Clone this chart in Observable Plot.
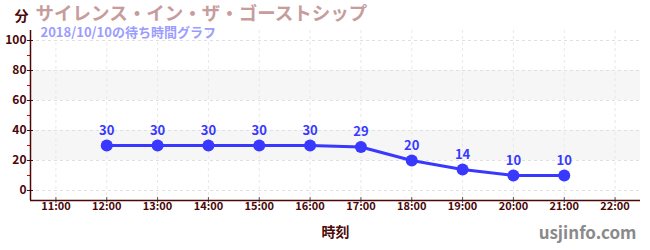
<!DOCTYPE html>
<html><head><meta charset="utf-8">
<script src="https://cdn.jsdelivr.net/npm/d3@7"></script>
<script src="https://cdn.jsdelivr.net/npm/@observablehq/plot@0.6"></script>
<style>body{margin:0;background:#fff}</style>
</head><body><div id="chart"></div>
<script>
const hours = [12, 13, 14, 15, 16, 17, 18, 19, 20, 21];
const waits = [30, 30, 30, 30, 30, 29, 20, 14, 10, 10];
const xTicks = [11, 12, 13, 14, 15, 16, 17, 18, 19, 20, 21, 22];
const yTicks = [0, 20, 40, 60, 80, 100];
const yMinorTicks = [10, 30, 50, 70, 90];
const bandStarts = [20, 60];
const bandEnds = [40, 80];
const title = "サイレンス・イン・ザ・ゴーストシップ";
const subtitle = "2018/10/10の待ち時間グラフ";
const unitLabel = "分";
const xLabel = "時刻";
const siteLabel = "usjinfo.com";

const data = hours.map((h, i) => ({h, v: waits[i]}));
const bands = bandStarts.map((s, i) => ({y1: s, y2: bandEnds[i]}));
const axisColor = "#4a0808";
const blue = "#3838ff";
const font = "'Noto Sans CJK JP', 'Noto Sans', sans-serif";

const chart = Plot.plot({
  width: 650, height: 250,
  marginLeft: 30, marginRight: 10, marginTop: 30, marginBottom: 50,
  style: {fontFamily: font, background: "#fff"},
  x: {domain: [10.5, 22.5]},
  y: {domain: [-6.67, 106.67]},
  marks: [
    Plot.rect(bands, {y1: "y1", y2: "y2", fill: "#f6f6f6"}),
    Plot.gridY(yTicks, {stroke: "#e0e0e0", strokeOpacity: 1, strokeDasharray: "3,3"}),
    Plot.gridX(xTicks, {stroke: "#e8e8e8", strokeOpacity: 1, strokeDasharray: "3,3"}),
    Plot.axisY(yMinorTicks, {tickSize: 3, stroke: "#e00000", text: null}),
    Plot.axisY(yTicks, {tickSize: 3, tickPadding: 1, stroke: axisColor, fill: axisColor, fontSize: 12, fontWeight: "bold", label: null}),
    Plot.axisY(yTicks, {tickSize: -3, stroke: axisColor, text: null, label: null}),
    Plot.axisX(xTicks, {tickSize: 3, stroke: "#555", text: null, label: null}),
    Plot.axisX(xTicks, {tickSize: -3, tickPadding: 5, stroke: "#555", fill: axisColor, fontSize: 11, fontWeight: "bold", tickFormat: d => `${d}:00`, label: null}),
    Plot.ruleX([10.5], {stroke: axisColor, strokeWidth: 1.5}),
    Plot.ruleY([-6.67], {stroke: axisColor, strokeWidth: 1.5}),
    Plot.line(data, {x: "h", y: "v", stroke: blue, strokeWidth: 3}),
    Plot.dot(data, {x: "h", y: "v", r: 6, fill: blue, stroke: null}),
    Plot.text(data, {x: "h", y: "v", text: d => String(d.v), dy: -15, fill: blue, fontSize: 13, fontWeight: "bold"}),
    Plot.text([unitLabel], {text: d => d, frameAnchor: "top-left", dx: -16, dy: -14, textAnchor: "start", lineAnchor: "middle", fill: axisColor, fontSize: 14, fontWeight: "bold"}),
    Plot.text([title], {text: d => d, frameAnchor: "top-left", dx: 5, dy: -16, textAnchor: "start", lineAnchor: "middle", fill: "#c69c9c", fontSize: 18.5, fontWeight: "bold"}),
    Plot.text([subtitle], {text: d => d, frameAnchor: "top-left", dx: 10, dy: 2, textAnchor: "start", lineAnchor: "middle", fill: "#9c9cff", fontSize: 13, fontWeight: "bold"}),
    Plot.text([xLabel], {text: d => d, frameAnchor: "bottom", dy: 32, lineAnchor: "middle", fill: axisColor, fontSize: 14, fontWeight: "bold"}),
    Plot.text([siteLabel], {text: d => d, frameAnchor: "bottom-right", dx: -4, dy: 33, textAnchor: "end", lineAnchor: "middle", fill: "#8a8a8a", fontSize: 17, fontWeight: "bold"})
  ]
});
document.getElementById("chart").appendChild(chart);
</script>
</body></html>
